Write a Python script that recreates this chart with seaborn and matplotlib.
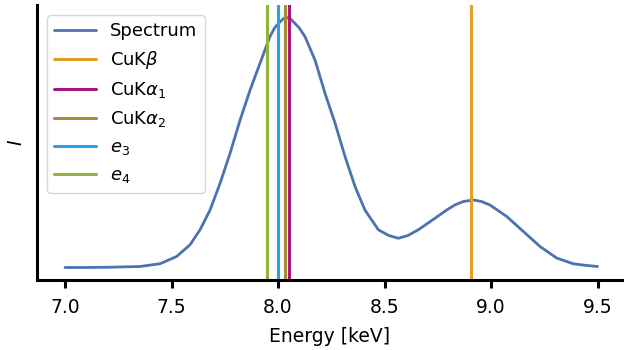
import numpy as np
import pandas as pd
import seaborn as sns
import matplotlib
matplotlib.use("Agg")
import matplotlib.pyplot as plt

energy = [7.000, 7.100, 7.200, 7.300, 7.352, 7.446, 7.524, 7.587, 7.634, 7.681,
          7.728, 7.775, 7.822, 7.869, 7.915, 7.962, 7.985, 8.009, 8.025, 8.041,
          8.060, 8.080, 8.100, 8.127, 8.174, 8.221, 8.268, 8.315, 8.362, 8.408,
          8.471, 8.520, 8.565, 8.610, 8.659, 8.737, 8.792, 8.830, 8.870, 8.917,
          8.955, 8.995, 9.074, 9.152, 9.230, 9.308, 9.386, 9.450, 9.500]
intensity = [0.000, 0.000, 0.001, 0.003, 0.004, 0.015, 0.044, 0.091, 0.151, 0.230,
             0.337, 0.457, 0.590, 0.710, 0.816, 0.923, 0.960, 0.982, 0.995, 1.000,
             0.993, 0.976, 0.958, 0.923, 0.829, 0.696, 0.577, 0.443, 0.323, 0.230,
             0.151, 0.128, 0.117, 0.128, 0.151, 0.197, 0.230, 0.250, 0.264, 0.270,
             0.264, 0.250, 0.204, 0.144, 0.084, 0.038, 0.015, 0.008, 0.004]

line_labels = ["CuK$\\beta$", "CuK$\\alpha_1$", "CuK$\\alpha_2$", "$e_3$", "$e_4$"]
line_energies = [8.908, 8.050, 8.031, 7.999, 7.948]
line_colors = ["#E69F25", "#A8177E", "#A68A35", "#26A3E0", "#8DB63A"]

sns.set_theme(style="ticks", context="notebook")
plt.rcParams.update({
    "font.family": ["DejaVu Sans"],
    "font.size": 13.5,
    "axes.labelsize": 13.5,
    "xtick.labelsize": 13.5,
    "ytick.labelsize": 13.5,
    "legend.fontsize": 13,
    "text.color": "black",
    "axes.labelcolor": "black",
    "axes.edgecolor": "black",
    "xtick.color": "black",
    "ytick.color": "black",
    "axes.linewidth": 2.2,
    "xtick.major.width": 2.2,
    "xtick.major.size": 6,
    "xtick.major.pad": 7,
})

fig = plt.figure(figsize=(6.24, 3.5), dpi=100)
ax = fig.add_axes([37 / 624, 70 / 350, 585.75 / 624, 275 / 350])

df = pd.DataFrame({"Energy": energy, "I": intensity})
sns.lineplot(data=df, x="Energy", y="I", ax=ax, color="#4C72B0", linewidth=2,
             label="Spectrum")
for lab, e, c in zip(line_labels, line_energies, line_colors):
    ax.axvline(e, color=c, linewidth=2.2, label=lab)

ax.set_xlim(6.8685, 9.6185)
ax.set_yticks([])
ax.set_xticks([7.0, 7.5, 8.0, 8.5, 9.0, 9.5])
ax.set_xlabel("Energy [keV]", labelpad=7)
ax.set_ylabel("$I$", labelpad=8)
sns.despine(ax=ax)
ax.legend(loc="upper left", bbox_to_anchor=(10 / 585.75, 1 - 10 / 275),
          borderaxespad=0, handlelength=2.3)

fig.savefig("out.png", dpi=100)
